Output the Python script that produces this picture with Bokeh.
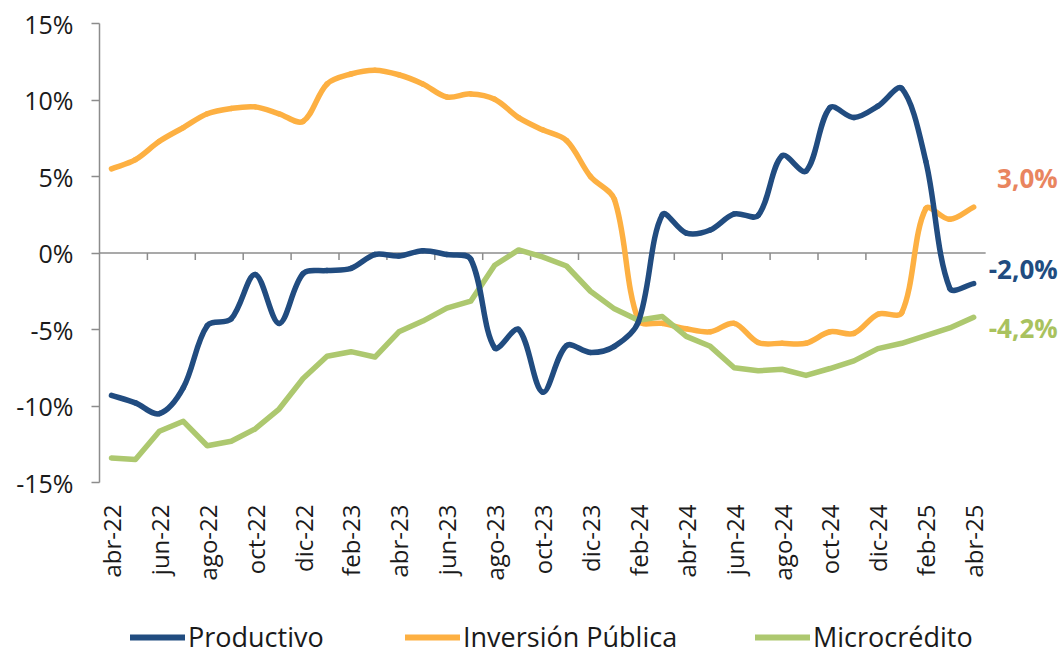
import math
from bokeh.plotting import figure
from bokeh.layouts import column
from bokeh.models import (FixedTicker, Label, Legend, LegendItem, ColumnDataSource)
from bokeh.embed import file_html
from bokeh.resources import INLINE

# ---------------- data ----------------
months = ["abr-22", "may-22", "jun-22", "jul-22", "ago-22", "sep-22", "oct-22", "nov-22", "dic-22",
          "ene-23", "feb-23", "mar-23", "abr-23", "may-23", "jun-23", "jul-23", "ago-23", "sep-23",
          "oct-23", "nov-23", "dic-23", "ene-24", "feb-24", "mar-24", "abr-24", "may-24", "jun-24",
          "jul-24", "ago-24", "sep-24", "oct-24", "nov-24", "dic-24", "ene-25", "feb-25", "mar-25",
          "abr-25"]

productivo = [-9.3, -9.8, -10.5, -8.8, -4.75, -4.3, -1.4, -4.6, -1.35, -1.15, -1.0, -0.1, -0.2,
              0.15, -0.1, -0.4, -6.2, -5.0, -9.1, -6.05, -6.5, -6.1, -4.5, 2.5, 1.3, 1.5, 2.55,
              2.45, 6.35, 5.35, 9.5, 8.85, 9.6, 10.75, 6.0, -2.3, -2.0]

inversion = [5.5, 6.1, 7.3, 8.2, 9.1, 9.45, 9.55, 9.1, 8.6, 11.05, 11.7, 11.95, 11.65, 11.05,
             10.2, 10.4, 10.05, 8.85, 8.05, 7.35, 5.0, 3.5, -4.4, -4.6, -4.95, -5.15, -4.6,
             -5.85, -5.9, -5.9, -5.15, -5.25, -4.0, -3.9, 2.9, 2.2, 3.0]

microcredito = [-13.4, -13.5, -11.65, -11.0, -12.6, -12.3, -11.5, -10.2, -8.2, -6.75, -6.45,
                -6.8, -5.15, -4.45, -3.6, -3.15, -0.8, 0.2, -0.25, -0.85, -2.5, -3.65, -4.4,
                -4.15, -5.45, -6.1, -7.5, -7.7, -7.6, -8.0, -7.55, -7.05, -6.25, -5.9, -5.4,
                -4.9, -4.2]

series_names = ["Productivo", "Inversión Pública", "Microcrédito"]
series_colors = ["#214C80", "#FDB042", "#ADC86F"]
label_colors = ["#214C80", "#E9855F", "#A9C25E"]
y_ticks = [-15, -10, -5, 0, 5, 10, 15]

FONT = "Open Sans"
x = list(range(len(months)))

# ---------------- layout constants ----------------
W, H = 1060, 600
LEFT, TOP, BOTTOM = 99, 23, 118
PX_PER_MONTH = 23.95
PX_PER_PCT = (H - TOP - BOTTOM) / 30.0
x_end = -0.5 + (W - LEFT) / PX_PER_MONTH


def bezier_source(xs, ys):
    """Control points (chord-weighted Catmull-Rom) for an Excel-like smoothed line."""
    n = len(xs)

    def dist(i, j):
        return math.hypot((xs[j] - xs[i]) * PX_PER_MONTH, (ys[j] - ys[i]) * PX_PER_PCT)

    fwd, back = [], []
    for i in range(n):
        a, b = max(i - 1, 0), min(i + 1, n - 1)
        tx, ty = xs[b] - xs[a], ys[b] - ys[a]
        lb, lf = dist(a, i), dist(i, b)
        s = lb + lf if lb + lf > 0 else 1.0
        fwd.append((xs[i] + tx * lf / s / 3, ys[i] + ty * lf / s / 3))
        back.append((xs[i] - tx * lb / s / 3, ys[i] - ty * lb / s / 3))
    d = dict(x0=xs[:-1], y0=ys[:-1], x1=xs[1:], y1=ys[1:],
             cx0=[f[0] for f in fwd[:-1]], cy0=[f[1] for f in fwd[:-1]],
             cx1=[b[0] for b in back[1:]], cy1=[b[1] for b in back[1:]])
    return ColumnDataSource(d)


p = figure(width=W, height=H, output_backend="svg", toolbar_location=None,
           x_range=(-0.5, x_end), y_range=(-15, 15),
           min_border_left=LEFT, min_border_right=0, min_border_top=TOP, min_border_bottom=BOTTOM)
p.outline_line_color = None
p.grid.visible = False
p.background_fill_color = "white"
p.border_fill_color = "white"

AX = "#8C8C8C"

# y axis
p.yaxis.ticker = FixedTicker(ticks=y_ticks)
p.yaxis.major_label_overrides = {t: f"{t}%" for t in y_ticks}
p.yaxis.axis_line_color = AX
p.yaxis.axis_line_width = 1.5
p.yaxis.major_tick_line_color = AX
p.yaxis.major_tick_line_width = 1.5
p.yaxis.major_tick_out = 8
p.yaxis.major_tick_in = 0
p.yaxis.minor_tick_line_color = None
p.yaxis.major_label_standoff = 18
p.yaxis.major_label_text_font = FONT
p.yaxis.major_label_text_font_size = "25px"
p.yaxis.major_label_text_color = "#1A1A1A"

# x axis (labels only, at the bottom)
tick_idx = x[::2]
p.xaxis.ticker = FixedTicker(ticks=tick_idx)
p.xaxis.major_label_overrides = {i: months[i] for i in tick_idx}
p.xaxis.major_label_orientation = math.pi / 2
p.xaxis.axis_line_color = None
p.xaxis.major_tick_line_color = None
p.xaxis.minor_tick_line_color = None
p.xaxis.major_label_standoff = 16
p.xaxis.major_label_text_font = FONT
p.xaxis.major_label_text_font_size = "24px"
p.xaxis.major_label_text_color = "#1A1A1A"

# zero line with category tick marks
p.segment(x0=[-0.5], y0=[0], x1=[len(months) - 0.5], y1=[0], line_color=AX, line_width=1.5)
tk = [i - 0.5 for i in tick_idx[1:-1]]
p.segment(x0=tk, y0=[0] * len(tk), x1=tk, y1=[-7 / PX_PER_PCT] * len(tk),
          line_color=AX, line_width=1.5)

# series
p.bezier(x0="x0", y0="y0", x1="x1", y1="y1", cx0="cx0", cy0="cy0", cx1="cx1", cy1="cy1",
         source=bezier_source(x, inversion), line_color=series_colors[1], line_width=5.5,
         line_cap="round")
p.line(x, microcredito, line_color=series_colors[2], line_width=5.5,
       line_cap="round", line_join="round")
p.bezier(x0="x0", y0="y0", x1="x1", y1="y1", cx0="cx0", cy0="cy0", cx1="cx1", cy1="cy1",
         source=bezier_source(x, productivo), line_color=series_colors[0], line_width=5.5,
         line_cap="round")

# end labels
last = len(months) - 1
end_vals = [productivo[-1], inversion[-1], microcredito[-1]]
y_offs = [15, 29, -11]
for v, c, yo in zip(end_vals, label_colors, y_offs):
    p.add_layout(Label(x=last, y=v, x_offset=84, y_offset=yo, text=f"{v:.1f}".replace(".", ",") + "%",
                       text_align="right", text_baseline="middle", text_font=FONT,
                       text_font_size="26px", text_font_style="bold", text_color=c))

# ---------------- legend strip below the chart ----------------
LH = 56
leg = figure(width=W, height=LH, output_backend="svg", toolbar_location=None,
             x_axis_type=None, y_axis_type=None, x_range=(0, 1), y_range=(0, 1),
             min_border_left=0, min_border_right=0, min_border_top=0, min_border_bottom=0)
leg.outline_line_color = None
leg.grid.visible = False
# glyph start positions, relative to the (column-aligned) plot frame
legend_x = [31, 306, 656]
for name, c, lx in zip(series_names, series_colors, legend_x):
    r = leg.line(x=[-1, -2], y=[-1, -2], line_color=c, line_width=6, line_cap="round")
    lg = Legend(items=[LegendItem(label=name, renderers=[r])], location=(lx, 1),
                glyph_width=55, glyph_height=24, label_standoff=3, padding=0, margin=0,
                border_line_color=None, background_fill_alpha=0, label_text_font=FONT,
                label_text_font_size="27px", label_text_color="#1A1A1A")
    leg.add_layout(lg, "center")

open("out.html", "w").write(file_html(column(p, leg, spacing=0), INLINE))
